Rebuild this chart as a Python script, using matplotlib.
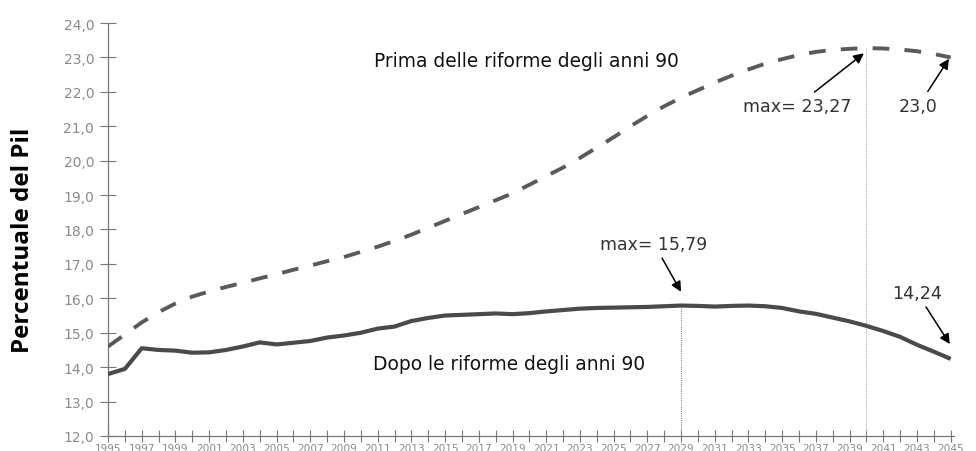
import matplotlib
matplotlib.use("Agg")
import matplotlib.pyplot as plt

years = list(range(1995, 2046))

prima = [14.60, 14.95, 15.30, 15.60, 15.85, 16.05, 16.20, 16.33, 16.45, 16.58,
         16.70, 16.83, 16.95, 17.08, 17.20, 17.35, 17.50, 17.67, 17.85, 18.05,
         18.25, 18.45, 18.65, 18.85, 19.05, 19.30, 19.55, 19.80, 20.08, 20.38,
         20.68, 21.00, 21.30, 21.58, 21.83, 22.05, 22.27, 22.47, 22.65, 22.82,
         22.95, 23.07, 23.16, 23.22, 23.25, 23.27, 23.26, 23.23, 23.18, 23.10,
         23.00]

dopo = [13.80, 13.95, 14.55, 14.50, 14.48, 14.42, 14.43, 14.50, 14.60, 14.72,
        14.66, 14.71, 14.76, 14.86, 14.92, 15.00, 15.12, 15.18, 15.34, 15.43,
        15.50, 15.52, 15.54, 15.56, 15.54, 15.57, 15.62, 15.66, 15.70, 15.72,
        15.73, 15.74, 15.75, 15.77, 15.79, 15.78, 15.76, 15.78, 15.79, 15.77,
        15.72, 15.62, 15.55, 15.44, 15.33, 15.20, 15.05, 14.88, 14.65, 14.45,
        14.24]

y_ticks = [12, 13, 14, 15, 16, 17, 18, 19, 20, 21, 22, 23, 24]
y_labels = ["12,0", "13,0", "14,0", "15,0", "16,0", "17,0", "18,0", "19,0",
            "20,0", "21,0", "22,0", "23,0", "24,0"]
x_labels = [str(y) if (y - 1995) % 2 == 0 else "" for y in years]

label_prima = "Prima delle riforme degli anni 90"
label_dopo = "Dopo le riforme degli anni 90"
y_title = "Percentuale del Pil"

max_prima_year, max_prima_val = 2040, 23.27
max_dopo_year, max_dopo_val = 2029, 15.79

fig = plt.figure(figsize=(9.76, 4.52), dpi=100)
ax = fig.add_axes([0.1107, 0.0332, 0.9775 - 0.1107, 0.9469 - 0.0332])

ax.plot(years, dopo, color="#4a4a4a", lw=3.0, solid_joinstyle="round",
        solid_capstyle="butt", zorder=3)
ax.plot(years, prima, color="#5a5a5a", lw=2.8, dashes=(4.3, 3.9), zorder=3)

ax.vlines(max_dopo_year, 12, max_dopo_val, color="#888888", lw=0.8,
          linestyles=(0, (1, 1)), zorder=2)
ax.vlines(max_prima_year, 12, max_prima_val, color="#aaaaaa", lw=0.8,
          linestyles=(0, (1, 1)), zorder=2)

ax.set_xlim(1995, 2045.2)
ax.set_ylim(12, 24)
ax.set_yticks(y_ticks)
ax.set_yticklabels(y_labels)
ax.set_xticks(years)
ax.set_xticklabels(x_labels)

for s in ["top", "right"]:
    ax.spines[s].set_visible(False)
for s in ["left", "bottom"]:
    ax.spines[s].set_color("#777777")
    ax.spines[s].set_linewidth(0.9)

ax.tick_params(axis="y", direction="inout", length=12, width=0.8,
               color="#777777", labelcolor="#8a8a8a", labelsize=10, pad=4)
ax.tick_params(axis="x", direction="inout", length=8, width=0.8,
               color="#777777", labelcolor="#8a8a8a", labelsize=7.6, pad=1)

fig.text(0.024, 0.469, y_title, rotation=90, ha="center", va="center",
         fontsize=17.5, fontweight="bold", color="black", family="Open Sans")

ax.text(2019.85, 22.9, label_prima, ha="center", va="center",
        fontsize=13.4, color="#111111")
ax.text(2018.8, 14.12, label_dopo, ha="center", va="center",
        fontsize=13.4, color="#111111")

arrow = dict(arrowstyle="-|>", color="black", lw=1.1, mutation_scale=15,
             shrinkA=2, shrinkB=0)
ax.annotate("max= 23,27", xy=(2039.85, 23.12), xytext=(2035.9, 21.6),
            ha="center", va="center", fontsize=12.6, color="#333333",
            arrowprops=arrow)
ax.annotate("23,0", xy=(2044.9, 22.96), xytext=(2043.1, 21.6),
            ha="center", va="center", fontsize=12.6, color="#333333",
            arrowprops=arrow)
ax.annotate("max= 15,79", xy=(2029.0, 16.19), xytext=(2027.4, 17.58),
            ha="center", va="center", fontsize=12.4, color="#333333",
            arrowprops=arrow)
ax.annotate("14,24", xy=(2044.95, 14.67), xytext=(2043.0, 16.16),
            ha="center", va="center", fontsize=12.6, color="#333333",
            arrowprops=arrow)

fig.savefig("out.png", dpi=100)
